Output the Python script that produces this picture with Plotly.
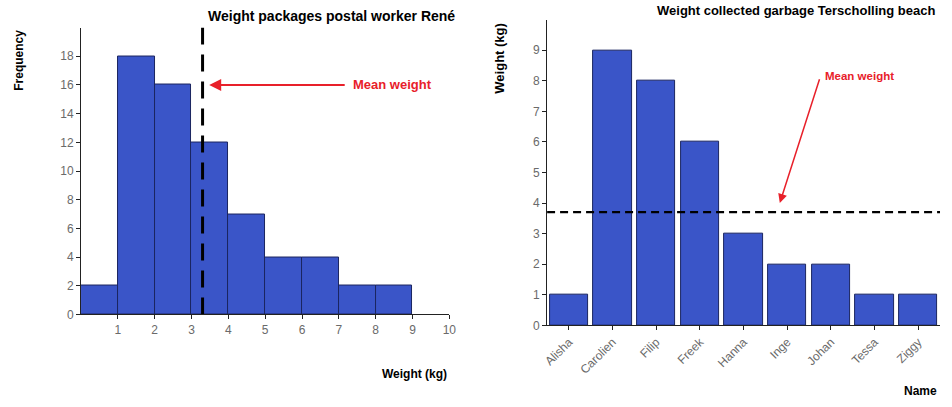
import plotly.graph_objects as go

# Left: histogram of package weights
bin_centers = [0.5, 1.5, 2.5, 3.5, 4.5, 5.5, 6.5, 7.5, 8.5]
frequencies = [2, 18, 16, 12, 7, 4, 4, 2, 2]
mean_package = 3.3
left_xticks = [1, 2, 3, 4, 5, 6, 7, 8, 9, 10]
left_yticks = [0, 2, 4, 6, 8, 10, 12, 14, 16, 18]

# Right: garbage collected per person
names = ["Alisha", "Carolien", "Filip", "Freek", "Hanna", "Inge", "Johan", "Tessa", "Ziggy"]
garbage = [1, 9, 8, 6, 3, 2, 2, 1, 1]
mean_garbage = 3.7
right_yticks = [0, 1, 2, 3, 4, 5, 6, 7, 8, 9]

W, H = 952, 407
FONT = "Liberation Sans, Arial, sans-serif"
BLUE = "#3a55c8"
EDGE = "#1b2560"
RED = "#e8202a"
GRAY = "#6a6a6a"

def px_x(p):
    return p / W

def px_y(p):
    return 1 - p / H

fig = go.Figure()

fig.add_trace(go.Bar(x=bin_centers, y=frequencies, width=1,
                     marker=dict(color=BLUE, line=dict(color=EDGE, width=1)),
                     xaxis="x", yaxis="y", showlegend=False))
fig.add_trace(go.Scatter(x=[mean_package, mean_package], y=[0, 20], mode="lines",
                         line=dict(color="black", width=3, dash="17px,10px"),
                         xaxis="x", yaxis="y", showlegend=False))

fig.add_trace(go.Bar(x=names, y=garbage, width=0.88,
                     marker=dict(color=BLUE, line=dict(color=EDGE, width=1)),
                     xaxis="x2", yaxis="y2", showlegend=False))
fig.add_trace(go.Scatter(x=[-0.5, 8.5], y=[mean_garbage, mean_garbage], mode="lines",
                         line=dict(color="black", width=2.2, dash="8px,5px"),
                         xaxis="x3", yaxis="y2", showlegend=False))

axis_common = dict(showline=True, linecolor="#222", linewidth=1, ticks="outside",
                   ticklen=4, tickcolor="#222", showgrid=False, zeroline=False,
                   tickfont=dict(family=FONT, size=12, color=GRAY))

fig.update_layout(
    width=W, height=H, margin=dict(l=0, r=0, t=0, b=0),
    paper_bgcolor="white", plot_bgcolor="white", bargap=0,
    xaxis=dict(domain=[px_x(77), px_x(450)], range=[0, 10], tickvals=left_xticks,
               anchor="y", **axis_common),
    yaxis=dict(domain=[px_y(320), px_y(28)], range=[0, 20], tickvals=left_yticks,
               anchor="x", **axis_common),
    xaxis2=dict(domain=[px_x(549), px_x(947)], range=[-0.5, 8.5], type="category",
                tickangle=-45, anchor="y2", **axis_common),
    xaxis3=dict(domain=[px_x(549), px_x(947)], range=[-0.5, 8.5], overlaying="x2",
                visible=False, anchor="y2"),
    yaxis2=dict(domain=[px_y(331), px_y(20)], range=[0, 10], tickvals=right_yticks,
                anchor="x2", **axis_common),
)

bold = dict(family=FONT, color="black")
ann = [
    dict(text="<b>Weight packages postal worker René</b>", xref="paper", yref="paper",
         x=px_x(204), y=px_y(16), xanchor="left", yanchor="middle", showarrow=False,
         font=dict(size=14, **bold)),
    dict(text="<b>Frequency</b>", xref="paper", yref="paper", x=px_x(14), y=px_y(61),
         xanchor="center", yanchor="middle", textangle=-90, showarrow=False,
         font=dict(size=12, **bold)),
    dict(text="<b>Weight (kg)</b>", xref="paper", yref="paper", x=px_x(450), y=px_y(381),
         xanchor="right", yanchor="middle", showarrow=False, font=dict(size=12, **bold)),
    dict(text="<b>Weight collected garbage Terscholling beach</b>", xref="paper", yref="paper",
         x=px_x(944), y=px_y(11), xanchor="right", yanchor="middle", showarrow=False,
         font=dict(size=13, **bold)),
    dict(text="<b>Weight (kg)</b>", xref="paper", yref="paper", x=px_x(501), y=px_y(59),
         xanchor="center", yanchor="middle", textangle=-90, showarrow=False,
         font=dict(size=13, **bold)),
    dict(text="<b>Name</b>", xref="paper", yref="paper", x=px_x(946), y=px_y(398),
         xanchor="right", yanchor="middle", showarrow=False, font=dict(size=12, **bold)),
    # left arrow + label
    dict(text="", xref="x", yref="y", x=3.48, y=16, axref="x", ayref="y", ax=7.2, ay=16,
         showarrow=True, arrowhead=2, arrowsize=1.2, arrowwidth=2, arrowcolor=RED),
    dict(text="<b>Mean weight</b>", xref="x", yref="y", x=7.32, y=16, xanchor="left",
         yanchor="middle", showarrow=False, font=dict(family=FONT, size=13, color=RED)),
    # right arrow + label
    dict(text="", xref="x2", yref="y2", x=4.83, y=4.0, axref="x2", ayref="y2", ax=5.75, ay=8.1,
         showarrow=True, arrowhead=2, arrowsize=1.2, arrowwidth=1.5, arrowcolor=RED),
    dict(text="<b>Mean weight</b>", xref="x2", yref="y2", x=5.82, y=8.15, xanchor="left",
         yanchor="middle", showarrow=False, font=dict(family=FONT, size=11.5, color=RED)),
]
fig.update_layout(annotations=ann)

fig.write_html("out.html", config={"displayModeBar": False},
               post_script="document.body.style.margin='0';document.body.style.overflow='hidden';")
